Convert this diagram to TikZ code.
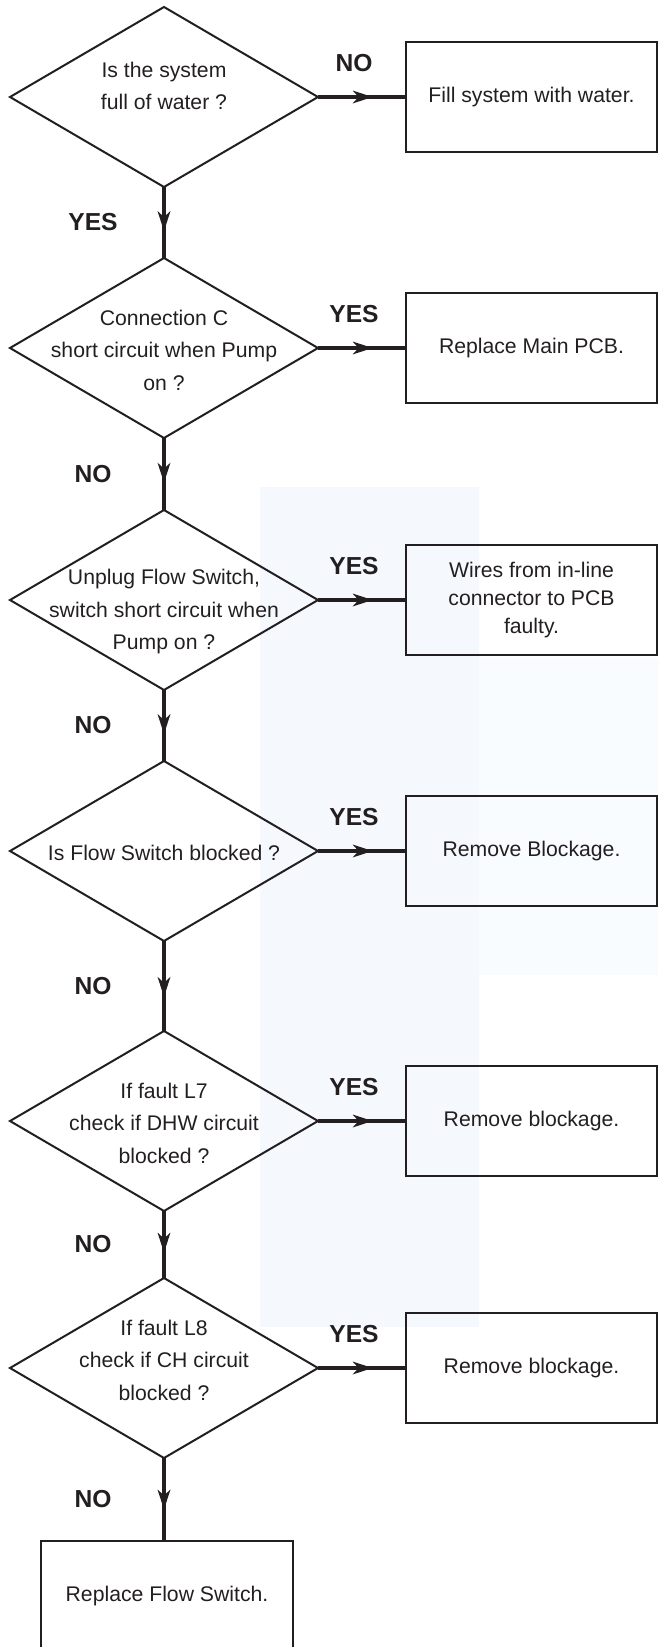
\documentclass[tikz,border=0pt]{standalone}
\usepackage{fontspec}
\setmainfont{Liberation Sans}
\usepackage{xcolor}
\definecolor{cInk}{HTML}{231F20}
\definecolor{cTint}{HTML}{F5F9FD}
\usepackage{tikz}
\usetikzlibrary{positioning,arrows.meta,shapes.geometric,decorations.markings}
\tikzset{
  node-ask/.style={draw=cInk,line width=2pt,diamond,inner sep=0pt,outer sep=0pt,
    minimum width=308pt,minimum height=180pt},
  ask-text/.style={text=cInk,align=center,inner sep=0pt,yshift=-2pt,
    font=\fontsize{21.2}{32.5}\selectfont},
  node-box/.style={draw=cInk,line width=2pt,inner sep=0pt,outer sep=0pt,
    minimum width=251pt,minimum height=110pt,align=center,text=cInk,
    font=\fontsize{21.2}{28}\selectfont},
  tag/.style={text=cInk,inner sep=0pt,font=\bfseries\fontsize{24.6}{28}\selectfont},
  arrow/.style={line width=4pt,draw=cInk,postaction={decorate},
    decoration={markings,mark=at position 0.62 with
      {\arrow{Stealth[length=20pt 0,width=13pt 0,inset=6pt 0,line width=0pt]}}}},
}
\begin{document}
\begin{tikzpicture}[x=1pt,y=-1pt,node distance=71pt and 88pt]
  \useasboundingbox (0,0) rectangle (658,1647);
  \clip (0,0) rectangle (658,1647);
  % faint tint of the scan
  \fill[cTint] (260,487) rectangle (479,1327);
  \fill[cTint!55] (479,658) rectangle (658,975);
  % questions
  \node[node-ask,label={[ask-text,name=d1t,yshift=13pt]center:{Is the system\\full of water ?}}] (d1) at (164,97) {};
  \node[node-ask,below=of d1,label={[ask-text,name=d2t]center:{Connection C\\short circuit when Pump\\on ?}}] (d2) {};
  \node[node-ask,below=72pt of d2,label={[ask-text,name=d3t,yshift=-10pt]center:{Unplug Flow Switch,\\switch short circuit when\\Pump on ?}}] (d3) {};
  \node[node-ask,below=of d3,label={[ask-text,name=d4t]center:{Is Flow Switch blocked ?}}] (d4) {};
  \node[node-ask,below=90pt of d4,label={[ask-text,name=d5t]center:{If fault L7\\check if DHW circuit\\blocked ?}}] (d5) {};
  \node[node-ask,below=67pt of d5,label={[ask-text,name=d6t,yshift=10pt]center:{If fault L8\\check if CH circuit\\blocked ?}}] (d6) {};
  % actions
  \node[node-box,right=of d1] (b1) {Fill system with water.};
  \node[node-box,right=of d2] (b2) {Replace Main PCB.};
  \node[node-box,right=of d3] (b3) {Wires from in-line\\connector to PCB\\faulty.};
  \node[node-box,right=of d4] (b4) {Remove Blockage.};
  \node[node-box,right=of d5] (b5) {Remove blockage.};
  \node[node-box,right=of d6] (b6) {Remove blockage.};
  \node[node-box,below=83pt of d6,xshift=3pt,minimum width=252pt] (fin) {Replace Flow Switch.};
  % connectors
  \draw[arrow] (d1) -- node[tag,xshift=-8pt,yshift=34pt] {NO} (b1);
  \draw[arrow] (d2) -- node[tag,xshift=-8pt,yshift=34pt] {YES} (b2);
  \draw[arrow] (d3) -- node[tag,xshift=-8pt,yshift=34pt] {YES} (b3);
  \draw[arrow] (d4) -- node[tag,xshift=-8pt,yshift=34pt] {YES} (b4);
  \draw[arrow] (d5) -- node[tag,xshift=-8pt,yshift=34pt] {YES} (b5);
  \draw[arrow] (d6) -- node[tag,xshift=-8pt,yshift=34pt] {YES} (b6);
  \draw[arrow] (d1) -- node[tag,xshift=-71pt] {YES} (d2);
  \draw[arrow] (d2) -- node[tag,xshift=-71pt] {NO} (d3);
  \draw[arrow] (d3) -- node[tag,xshift=-71pt] {NO} (d4);
  \draw[arrow] (d4) -- node[tag,xshift=-71pt] {NO} (d5);
  \draw[arrow] (d5) -- node[tag,xshift=-71pt] {NO} (d6);
  \draw[arrow] (d6) -- node[tag,xshift=-71pt] {NO} (d6 |- fin.north);
\end{tikzpicture}
\end{document}
